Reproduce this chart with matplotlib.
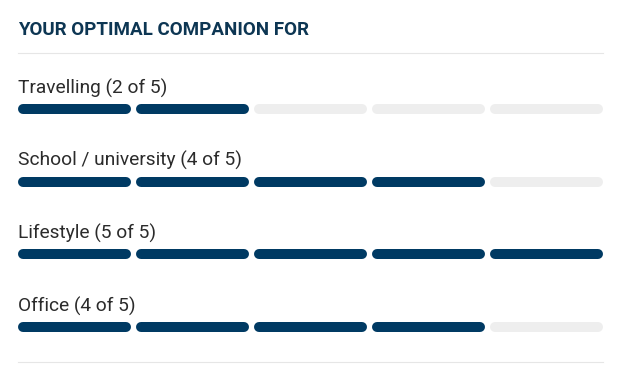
import matplotlib.pyplot as plt

title = "YOUR OPTIMAL COMPANION FOR"
categories = ["Travelling", "School / university", "Lifestyle", "Office"]
scores = [2, 4, 5, 4]
max_score = 5

navy = "#003a63"
grey = "#eeeeee"

fig = plt.figure(figsize=(6.26, 3.69), dpi=100)
ax = fig.add_axes([0, 0, 1, 1])
ax.set_xlim(0, 626)
ax.set_ylim(369, 0)
ax.axis("off")

left, right = 18, 603
seg_w, gap, bar_h = 113, 5, 10
lw = bar_h * 72 / 100

ax.text(left, 30, title, fontsize=13.5, fontweight="bold", color="#0d3653",
        family="Roboto", va="center")
ax.plot([left, right], [53, 53], color="#e6e6e6", lw=0.8)
ax.plot([left, right], [362, 362], color="#e6e6e6", lw=0.8)

for row, (cat, s) in enumerate(zip(categories, scores)):
    y = 109 + row * 72.7
    ax.text(left, y - 21, f"{cat} ({s} of {max_score})", fontsize=13.8,
            color="#2b2b2b", family="Roboto", va="center")
    for i in range(max_score):
        x0 = left + i * (seg_w + gap) + bar_h / 2
        x1 = left + i * (seg_w + gap) + seg_w - bar_h / 2
        ax.plot([x0, x1], [y, y], color=navy if i < s else grey, lw=lw,
                solid_capstyle="round")

fig.savefig("out.png", dpi=100)
